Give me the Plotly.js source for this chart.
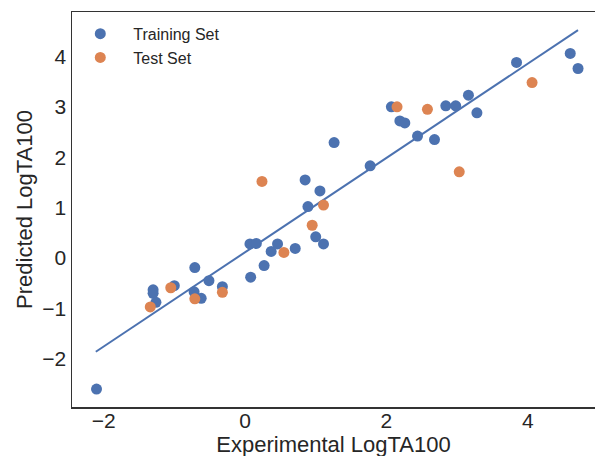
<!DOCTYPE html>
<html>
<head>
<meta charset="utf-8">
<script src="https://cdn.plot.ly/plotly-3.0.1.min.js"></script>
<style>html,body{margin:0;padding:0;overflow:hidden;background:#fff;}</style>
</head>
<body>
<div id="chart" style="width:595px;height:470px;"></div>
<script>
// Training set (experimental, predicted)
const trainX = [-2.10, -1.30, -1.30, -1.26, -1.00, -0.71, -0.72, -0.62, -0.51, -0.32,
                0.07, 0.16, 0.08, 0.27, 0.37, 0.46, 0.71, 0.85, 0.89, 1.00,
                1.06, 1.11, 1.26, 1.77, 2.07, 2.19, 2.26, 2.44, 2.68, 2.84,
                2.98, 3.16, 3.28, 3.84, 4.60, 4.71];
const trainY = [-2.60, -0.63, -0.70, -0.88, -0.55, -0.19, -0.67, -0.80, -0.45, -0.57,
                0.28, 0.29, -0.38, -0.15, 0.13, 0.28, 0.19, 1.55, 1.02, 0.42,
                1.33, 0.28, 2.29, 1.83, 3.00, 2.72, 2.68, 2.42, 2.35, 3.02,
                3.02, 3.23, 2.88, 3.88, 4.06, 3.76];
// Test set
const testX = [-1.34, -1.05, -0.71, -0.32, 0.24, 0.55, 0.95, 1.11, 2.15, 2.58, 3.03, 4.06];
const testY = [-0.97, -0.59, -0.81, -0.68, 1.52, 0.11, 0.65, 1.05, 3.00, 2.95, 1.71, 3.48];
// Fitted line end points
const fitX = [-2.11, 4.71];
const fitY = [-1.86, 4.52];

const xTicks = [-2, 0, 2, 4];
const yTicks = [-2, -1, 0, 1, 2, 3, 4];
const tickText = v => (v < 0 ? '\u2212' + Math.abs(v) : String(v));

const blue = '#4C72B0', orange = '#DD8452';
const fontFam = '"Liberation Sans", Arial, sans-serif';

const traces = [
  {x: fitX, y: fitY, mode: 'lines', line: {color: blue, width: 2}, showlegend: false, hoverinfo: 'skip'},
  {x: trainX, y: trainY, mode: 'markers', name: 'Training Set',
   marker: {color: blue, size: 11, line: {width: 0}}},
  {x: testX, y: testY, mode: 'markers', name: 'Test Set',
   marker: {color: orange, size: 11, line: {width: 0}}}
];

const layout = {
  width: 595, height: 470,
  margin: {l: 72, r: 0, t: 12, b: 63},
  paper_bgcolor: '#fff', plot_bgcolor: '#fff',
  font: {family: fontFam, color: '#262626'},
  showlegend: true,
  legend: {x: -0.009, y: 0.988, xanchor: 'left', yanchor: 'top',
           bgcolor: 'rgba(255,255,255,0)', borderwidth: 0,
           font: {size: 16, family: fontFam, color: '#262626'}, itemwidth: 56},
  xaxis: {
    range: [-2.447, 4.95], showgrid: false, zeroline: false,
    showline: true, mirror: true, linecolor: '#333', linewidth: 1.5,
    ticks: '', ticklen: 0, ticklabelstandoff: -6, tickvals: xTicks, ticktext: xTicks.map(tickText),
    tickfont: {size: 21, family: fontFam, color: '#262626'},
    title: {text: 'Experimental LogTA100', font: {size: 22, family: fontFam, color: '#262626'}, standoff: 5}
  },
  yaxis: {
    range: [-2.956, 4.881], showgrid: false, zeroline: false,
    showline: true, mirror: false, linecolor: '#333', linewidth: 1.5,
    ticks: '', ticklen: 0, tickvals: yTicks, ticktext: yTicks.map(tickText),
    tickfont: {size: 21, family: fontFam, color: '#262626'},
    title: {text: 'Predicted LogTA100', font: {size: 22, family: fontFam, color: '#262626'}, standoff: 3}
  }
};

Plotly.newPlot('chart', traces, layout, {displayModeBar: false, staticPlot: true});
</script>
</body>
</html>
